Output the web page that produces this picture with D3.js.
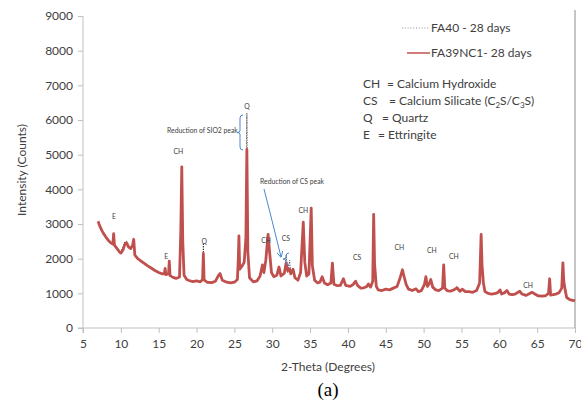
<!DOCTYPE html>
<html lang="en">
<head>
    <title>XRD pattern</title>
    <script src="https://d3js.org/d3.v7.min.js"></script>
    <style>
        body { margin: 0; background: #fff; }
        svg text { font-family: Lato, "Open Sans", sans-serif; fill: #404040; }
        .axis path, .axis line { stroke: #bfbfbf; }
        .axis text { font-family: Lato, sans-serif; font-size: 12px; fill: #404040; }
        .note { font-size: 6.8px; fill: #404040; }
    </style>
</head>
<body>
<div id="chart"></div>
<script>
    // tick values
    var xTicks = [5, 10, 15, 20, 25, 30, 35, 40, 45, 50, 55, 60, 65, 70];
    var yTicks = [0, 1000, 2000, 3000, 4000, 5000, 6000, 7000, 8000, 9000];

    // 2-theta positions shared by both scans
    var twoTheta = [7.0,7.1,7.3,7.5,7.7,8.0,8.3,8.6,8.95,9.05,
        9.15,9.5,9.8,10.0,10.3,10.5,10.75,11.0,11.3,11.55,
        11.7,11.85,12.2,12.6,13.0,13.5,14.0,14.5,15.0,15.5,
        15.75,15.85,15.95,16.3,16.4,16.5,16.9,17.3,17.75,17.92,
        18.05,18.18,18.35,18.7,19.0,19.5,20.0,20.5,20.8,20.9,
        21.0,21.4,22.0,22.5,22.9,23.1,23.4,24.0,24.5,25.0,
        25.4,25.52,25.6,25.7,26.05,26.3,26.52,26.65,26.78,27.0,
        27.5,28.0,28.4,28.7,28.9,29.15,29.45,29.65,29.9,30.2,
        30.6,30.9,31.15,31.6,31.85,32.05,32.3,32.45,32.75,33.0,
        33.4,33.75,34.1,34.3,34.55,34.85,35.15,35.3,35.6,36.0,
        36.3,36.6,36.9,37.3,37.75,37.95,38.15,38.6,39.0,39.4,
        39.7,40.3,40.7,41.0,41.3,41.7,42.1,42.5,42.7,43.0,
        43.28,43.4,43.52,43.75,44.0,44.5,45.0,45.5,46.0,46.5,
        46.9,47.2,47.4,47.7,48.0,48.5,49.0,49.3,49.7,50.1,
        50.3,50.5,50.8,50.95,51.2,51.6,52.0,52.5,52.65,52.8,
        53.1,53.5,54.0,54.4,54.8,55.1,55.5,56.0,56.5,57.0,
        57.4,57.6,57.72,57.9,58.1,58.5,59.0,59.5,59.8,60.1,
        60.3,60.7,61.0,61.3,61.7,62.1,62.4,62.7,63.0,63.5,
        63.9,64.3,64.7,65.1,65.6,66.1,66.5,66.65,66.78,67.1,
        67.5,67.9,68.25,68.4,68.52,68.7,68.9,69.3,69.7,70.0];

    // FA39NC1 - 28 days (red), counts
    var fa39nc1 = [3080,3010,2900,2810,2730,2630,2540,2470,2420,2720,
        2390,2290,2200,2160,2260,2400,2460,2340,2290,2380,
        2560,2100,2010,1940,1880,1800,1730,1660,1600,1560,
        1570,1720,1540,1570,1930,1510,1460,1430,1470,2800,
        4650,2500,1520,1400,1370,1340,1360,1330,1400,2150,
        1390,1320,1310,1350,1520,1570,1380,1320,1300,1320,
        1400,2000,2660,1700,1800,1900,2600,5150,2200,1450,
        1330,1360,1500,1820,1600,1950,2700,2200,1600,1480,
        1520,1760,1500,1580,1880,1650,1700,1560,1690,1450,
        1380,1600,3050,1900,1500,1560,3460,1800,1380,1300,
        1320,1480,1300,1250,1300,1870,1260,1220,1230,1420,
        1230,1200,1260,1350,1220,1150,1160,1200,1270,1180,
        1350,3280,1850,1200,1100,1080,1120,1100,1150,1200,
        1450,1680,1500,1250,1120,1080,1130,1050,1080,1250,
        1480,1200,1300,1400,1180,1100,1080,1150,1820,1150,
        1080,1060,1100,1160,1060,1120,1050,1050,1030,1080,
        1300,2700,1800,1300,1050,1000,980,1000,1020,1100,
        980,1020,1080,980,960,980,1020,1060,980,940,
        980,1030,980,930,920,930,1000,1420,950,960,
        980,1020,1150,1880,1350,1100,880,820,800,780];

    // FA40 - 28 days (dotted), counts
    var fa40 = [3050,2990,2880,2800,2720,2610,2530,2450,2410,2600,
        2380,2300,2230,2200,2350,2480,2500,2400,2280,2350,
        2450,2150,2030,1950,1870,1800,1730,1660,1600,1560,
        1570,1650,1540,1560,1800,1510,1460,1430,1460,2600,
        4500,2300,1500,1390,1360,1330,1350,1330,1420,2450,
        1400,1320,1310,1350,1500,1520,1380,1320,1300,1320,
        1390,1950,2550,1650,1780,1850,2700,6200,2200,1420,
        1340,1340,1480,1750,1560,1900,2550,2100,1580,1480,
        1500,1700,1480,1600,2100,1600,1950,1550,1750,1430,
        1380,1560,3000,1850,1500,1540,3400,1750,1360,1300,
        1320,1450,1290,1260,1290,1800,1250,1220,1230,1400,
        1220,1200,1260,1380,1210,1150,1160,1200,1250,1180,
        1300,3200,1500,1200,1100,1080,1120,1100,1150,1200,
        1430,1650,1480,1240,1120,1080,1120,1050,1080,1250,
        1480,1200,1300,1420,1160,1100,1080,1130,1780,1130,
        1080,1060,1120,1200,1060,1110,1050,1050,1040,1070,
        1280,2650,1700,1250,1040,1000,980,1000,1020,1120,
        990,1020,1070,980,960,980,1020,1080,980,940,
        980,1010,980,930,920,930,990,1400,950,960,
        980,1020,1150,1850,1320,1100,880,820,800,780];

    // peak labels : [2-theta, counts, text]
    var peakLabels = [[9.1, 3150, "E"], [16.0, 2000, "E"], [17.6, 5020, "CH"], [21.0, 2420, "Q"],
        [26.65, 6320, "Q"], [29.2, 2440, "CH"], [31.8, 2500, "CS"], [34.1, 3320, "CH"],
        [41.2, 1950, "CS"], [46.8, 2260, "CH"], [51.1, 2150, "CH"], [54.0, 1980, "CH"], [63.8, 1160, "CH"]];

    var width = 581, height = 405;
    var margins = { left: 83, top: 16, right: 6, bottom: 77 };

    var svg = d3.select("#chart").append("svg")
        .attr("width", width)
        .attr("height", height);

    var xscale = d3.scaleLinear().domain([5, 70]).range([margins.left, width - margins.right]);
    var yscale = d3.scaleLinear().domain([0, 9000]).range([height - margins.bottom, margins.top]);

    var xaxis = d3.axisBottom(xscale).tickValues(xTicks).tickSize(5).tickPadding(6);
    var yaxis = d3.axisLeft(yscale).tickValues(yTicks).tickSize(5).tickPadding(5).tickFormat(d3.format("d"));

    svg.append("g").attr("class", "axis")
        .attr("transform", "translate(0," + yscale(0) + ")")
        .call(xaxis)
        .call(function (g) { g.select(".domain").attr("d", "M" + (margins.left - 5) + ",0H" + xscale(70)); });
    svg.append("g").attr("class", "axis")
        .attr("transform", "translate(" + margins.left + ",0)")
        .call(yaxis)
        .call(function (g) { g.select(".domain").attr("d", "M0," + yscale(9000) + "V" + (yscale(0) + 5)); });

    // right border of the plot
    svg.append("line")
        .attr("x1", xscale(70)).attr("x2", xscale(70))
        .attr("y1", 10).attr("y2", yscale(0))
        .attr("stroke", "#8c8c8c").attr("stroke-width", 1);

    var line = d3.line()
        .x(function (d, i) { return xscale(twoTheta[i]); })
        .y(function (d) { return yscale(d); });

    svg.append("path").datum(fa40)
        .attr("d", line)
        .attr("fill", "none")
        .attr("stroke", "#000")
        .attr("stroke-width", 0.8)
        .attr("stroke-dasharray", "1,1.5");

    svg.append("path").datum(fa39nc1)
        .attr("d", line)
        .attr("fill", "none")
        .attr("stroke", "#c0504d")
        .attr("stroke-width", 2.8)
        .attr("stroke-linejoin", "round");

    // peak labels
    svg.selectAll(".peak").data(peakLabels).enter()
        .append("text")
        .attr("class", "note")
        .attr("x", function (d) { return xscale(d[0]); })
        .attr("y", function (d) { return yscale(d[1]); })
        .attr("text-anchor", "middle")
        .text(function (d) { return d[2]; });

    // annotations in blue
    var blue = "#4a86d0";
    svg.append("text").attr("class", "note").attr("x", 167).attr("y", 133).text("Reduction of SIO2 peak");
    function brace(x, y0, y1) {
        var m = (y0 + y1) / 2;
        return "M" + (x + 3) + "," + y0 + " Q" + x + "," + y0 + " " + x + "," + (y0 + 3) +
            " V" + (m - 2) + " Q" + x + "," + m + " " + (x - 3) + "," + m +
            " Q" + x + "," + m + " " + x + "," + (m + 2) +
            " V" + (y1 - 3) + " Q" + x + "," + y1 + " " + (x + 3) + "," + y1;
    }
    svg.append("path").attr("d", brace(240, 115, 150))
        .attr("fill", "none").attr("stroke", blue).attr("stroke-width", 1);
    svg.append("path").attr("d", brace(286, 253, 265))
        .attr("fill", "none").attr("stroke", blue).attr("stroke-width", 1);

    svg.append("text").attr("class", "note").attr("x", 260).attr("y", 184).text("Reduction of CS peak");
    svg.append("defs").append("marker")
        .attr("id", "arrow").attr("viewBox", "0 0 10 10").attr("refX", 9).attr("refY", 5)
        .attr("markerWidth", 6).attr("markerHeight", 6).attr("orient", "auto")
        .append("path").attr("d", "M0,0 L10,5 L0,10").attr("fill", "none").attr("stroke", blue).attr("stroke-width", 1.5);
    svg.append("path")
        .attr("d", "M264,189 Q272,220 281,257")
        .attr("fill", "none").attr("stroke", blue).attr("stroke-width", 1)
        .attr("marker-end", "url(#arrow)");

    // legend
    var legend = svg.append("g");
    legend.append("line").attr("x1", 402).attr("x2", 430).attr("y1", 28).attr("y2", 28)
        .attr("stroke", "#666").attr("stroke-width", 0.7).attr("stroke-dasharray", "1,1.8");
    legend.append("text").attr("x", 431).attr("y", 32).attr("font-size", "12px").text("FA40 - 28 days");
    legend.append("line").attr("x1", 407).attr("x2", 430).attr("y1", 53).attr("y2", 53)
        .attr("stroke", "#c0504d").attr("stroke-width", 1.5);
    legend.append("text").attr("x", 431).attr("y", 57).attr("font-size", "12px").text("FA39NC1- 28 days");

    // key of phase abbreviations
    var keyRows = [["CH", "= Calcium Hydroxide", 387], ["CS", "= Calcium Silicate (C", 389],
        ["Q", "= Quartz", 382], ["E", "= Ettringite", 378]];
    var key = svg.append("g").attr("font-size", "12px");
    keyRows.forEach(function (r, i) {
        var y = 88 + i * 17;
        key.append("text").attr("x", 363).attr("y", y).text(r[0]);
        var t = key.append("text").attr("x", r[2]).attr("y", y).text(r[1]);
        if (i === 1) {
            t.append("tspan").attr("font-size", "8px").attr("dy", 3).text("2");
            t.append("tspan").attr("dy", -3).text("S/C");
            t.append("tspan").attr("font-size", "8px").attr("dy", 3).text("3");
            t.append("tspan").attr("dy", -3).text("S)");
        }
    });

    // axis titles
    svg.append("text")
        .attr("transform", "translate(26," + 170 + ") rotate(-90)")
        .attr("text-anchor", "middle").attr("font-size", "12px")
        .text("Intensity (Counts)");
    svg.append("text")
        .attr("x", 328).attr("y", 371)
        .attr("text-anchor", "middle").attr("font-size", "12px")
        .text("2-Theta (Degrees)");
    svg.append("text")
        .attr("x", 328).attr("y", 396)
        .attr("text-anchor", "middle").attr("font-size", "19px")
        .style("font-family", "'Liberation Serif', 'DejaVu Serif', serif").style("fill", "#000")
        .text("(a)");
</script>
</body>
</html>
